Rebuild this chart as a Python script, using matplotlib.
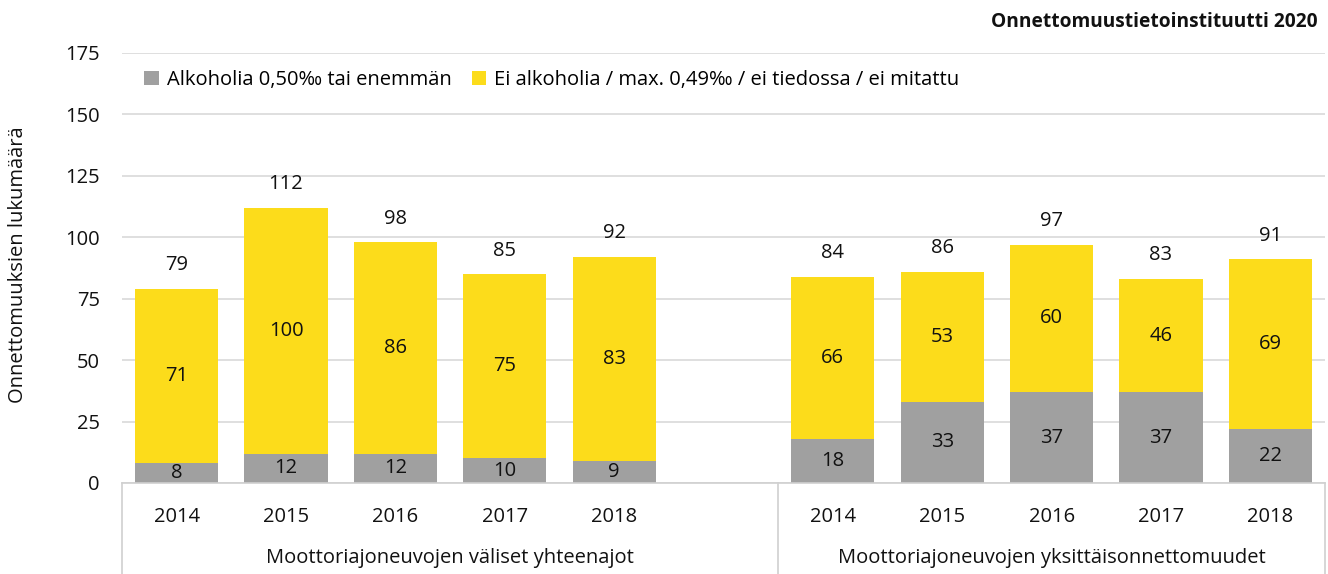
import matplotlib
matplotlib.use("Agg")
import matplotlib.pyplot as plt
import matplotlib.transforms as mtransforms
from matplotlib.lines import Line2D

plt.rcParams['font.family'] = ['Open Sans', 'DejaVu Sans']

years = ["2014", "2015", "2016", "2017", "2018"]
groups = ["Moottoriajoneuvojen väliset yhteenajot", "Moottoriajoneuvojen yksittäisonnettomuudet"]
alcohol = [8, 12, 12, 10, 9, 18, 33, 37, 37, 22]
no_alcohol = [71, 100, 86, 75, 83, 66, 53, 60, 46, 69]
series_names = ["Alkoholia 0,50‰ tai enemmän", "Ei alkoholia / max. 0,49‰ / ei tiedossa / ei mitattu"]
ylabel = "Onnettomuuksien lukumäärä"
source = "Onnettomuustietoinstituutti 2020"

GRAY = "#a0a0a0"
YELLOW = "#fcdc1b"
FS = 14.5

fig = plt.figure(figsize=(13.28, 5.74), dpi=100)
ax = fig.add_axes([122/1328, 1-483/574, (1325-122)/1328, (483-53)/574])

xpos = [0, 1, 2, 3, 4, 6, 7, 8, 9, 10]
w = 0.76
ax.bar(xpos, alcohol, w, color=GRAY, zorder=2, label=series_names[0])
ax.bar(xpos, no_alcohol, w, bottom=alcohol, color=YELLOW, zorder=2, label=series_names[1])

for x, a, n in zip(xpos, alcohol, no_alcohol):
    ax.text(x, a/2, str(a), ha='center', va='center', fontsize=FS, color='#111111', zorder=3)
    ax.text(x, a + n/2, str(n), ha='center', va='center', fontsize=FS, color='#111111', zorder=3)
    ax.annotate(str(a + n), (x, a + n), xytext=(0, 17), textcoords='offset points',
                ha='center', va='center', fontsize=FS, color='#111111')

ax.set_xlim(-0.5, 10.5)
ax.set_ylim(0, 175)
ax.set_yticks(range(0, 176, 25))
ax.yaxis.grid(True, color='#d9d9d9', linewidth=1.2, zorder=0)
ax.set_axisbelow(True)
for s in ['top', 'right', 'left']:
    ax.spines[s].set_visible(False)
ax.spines['bottom'].set_color('#d0d0d0')
ax.spines['bottom'].set_linewidth(1.2)
ax.tick_params(axis='y', length=0, labelsize=FS, pad=16, colors='#111111')
ax.set_xticks(xpos)
ax.set_xticklabels(years * 2)
ax.tick_params(axis='x', length=0, labelsize=FS, pad=17, colors='#111111')

fig.text(18/1328, 1 - 265/574, ylabel, rotation=90, ha='center', va='center',
         fontsize=FS, color='#111111')

trans = mtransforms.blended_transform_factory(ax.transData, ax.transAxes)
bot = -(574 - 483) / 430
for xs in [-0.5, 5.5, 10.5]:
    ax.add_line(Line2D([xs, xs], [0, bot], transform=trans, color='#d0d0d0',
                       linewidth=1.2, clip_on=False))
ax.text(2.5, -(558 - 483) / 430, groups[0], transform=trans, ha='center', va='center',
        fontsize=FS, color='#111111')
ax.text(8, -(558 - 483) / 430, groups[1], transform=trans, ha='center', va='center',
        fontsize=FS, color='#111111')

ax.legend(loc='center left', bbox_to_anchor=(0.012, (483 - 80) / 430), ncol=2, frameon=False,
          fontsize=FS, handlelength=0.7, handleheight=0.7, handletextpad=0.4,
          columnspacing=1.0, borderaxespad=0)

fig.text(1318/1328, 1 - 22/574, source, ha='right', va='center', fontsize=13.8,
         fontweight='bold', color='#111111')

fig.savefig("out.png", dpi=100)
